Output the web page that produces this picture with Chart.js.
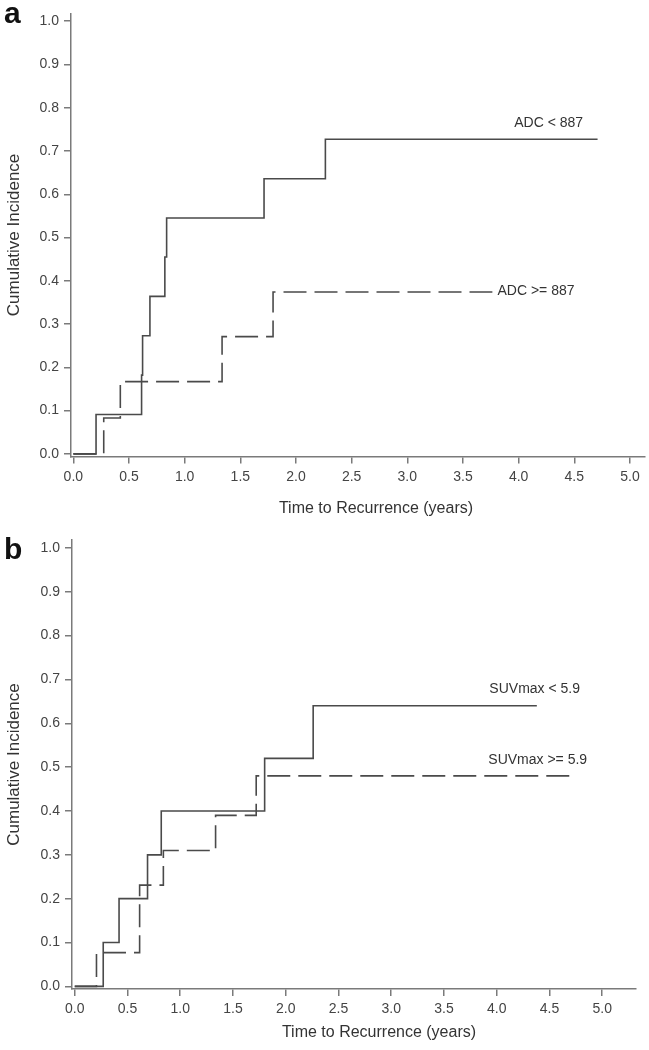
<!DOCTYPE html>
<html><head><meta charset="utf-8">
<script src="https://cdn.jsdelivr.net/npm/chart.js@4/dist/chart.umd.min.js"></script>
<style>
html,body{margin:0;padding:0;background:#fff;width:649px;height:1050px;overflow:hidden;}
.panel{position:absolute;left:0;width:649px;height:525px;}
.tag{position:absolute;left:4px;font:bold 30px "Liberation Sans",Arial,sans-serif;line-height:30px;color:#111;z-index:5;}
</style></head><body>
<div class="panel" style="top:0"><canvas id="ca"></canvas></div>
<div class="panel" style="top:525px"><canvas id="cb"></canvas></div>
<div class="tag" style="top:-2px">a</div>
<div class="tag" style="top:534px">b</div>
<script>
// ---- data ----
const xTicks = [0, 0.5, 1, 1.5, 2, 2.5, 3, 3.5, 4, 4.5, 5];
const yTicks = [0, 0.1, 0.2, 0.3, 0.4, 0.5, 0.6, 0.7, 0.8, 0.9, 1.0];

const adcLowX  = [0, 0.204, 0.613, 0.622, 0.688, 0.822, 0.838, 1.713, 2.264, 4.709];
const adcLowY  = [0, 0.091, 0.182, 0.273, 0.364, 0.455, 0.545, 0.636, 0.727, 0.727];
const adcHighX = [0, 0.273, 0.422, 1.336, 1.794, 3.764];
const adcHighY = [0, 0.083, 0.167, 0.271, 0.374, 0.374];

const suvLowX  = [0, 0.27, 0.42, 0.69, 0.82, 1.80, 2.26, 4.38];
const suvLowY  = [0, 0.10, 0.20, 0.30, 0.40, 0.52, 0.64, 0.64];
const suvHighX = [0, 0.206, 0.615, 0.84, 1.335, 1.72, 4.70];
const suvHighY = [0, 0.077, 0.231, 0.31, 0.39, 0.48, 0.48];

const labelsA = [
  {text: 'ADC < 887',  x: 3.96, y: 0.764},
  {text: 'ADC >= 887', x: 3.81, y: 0.375}
];
const labelsB = [
  {text: 'SUVmax < 5.9',  x: 3.93, y: 0.677},
  {text: 'SUVmax >= 5.9', x: 3.92, y: 0.515}
];
const xTitle = 'Time to Recurrence (years)';
const yTitle = 'Cumulative Incidence';

// ---- drawing ----
const FAM = '"Liberation Sans", Arial, sans-serif';
const AXIS = '#7a7a7a';
const LINE = '#4a4a4a';

const textPlugin = {
  id: 'texts',
  afterDatasetsDraw(chart, args, opts) {
    const ctx = chart.ctx, xs = chart.scales.x, ys = chart.scales.y;
    ctx.save();
    ctx.fillStyle = '#333';
    ctx.font = '14px ' + FAM;
    ctx.textAlign = 'left';
    ctx.textBaseline = 'middle';
    opts.labels.forEach(l => ctx.fillText(l.text, xs.getPixelForValue(l.x), ys.getPixelForValue(l.y)));
    ctx.font = '16px ' + FAM;
    ctx.textAlign = 'center';
    ctx.fillText(xTitle, opts.titleX, opts.titleY);
    ctx.restore();
  }
};

function makeChart(id, cfg) {
  const datasets = cfg.series.map(s => ({
    data: s.x.map((v, i) => ({x: v, y: s.y[i]})),
    stepped: 'before',
    borderColor: LINE,
    borderWidth: 1.6,
    borderDash: s.dash,
    pointRadius: 0,
    fill: false
  }));
  return new Chart(document.getElementById(id), {
    type: 'line',
    data: {datasets},
    options: {
      responsive: true,
      maintainAspectRatio: false,
      animation: false,
      layout: {padding: {top: cfg.top, right: cfg.right, left: 0, bottom: 0}},
      plugins: {
        legend: {display: false},
        tooltip: {enabled: false},
        texts: {labels: cfg.labels, titleX: cfg.titleX, titleY: cfg.titleY}
      },
      scales: {
        x: {
          type: 'linear', min: cfg.xmin, max: cfg.xmax,
          afterBuildTicks: s => { s.ticks = xTicks.map(v => ({value: v})); },
          afterFit: s => { s.height = cfg.xh; },
          ticks: {callback: v => Number(v).toFixed(1), font: {family: FAM, size: 14}, color: '#444', padding: 5, maxRotation: 0, autoSkip: false},
          grid: {drawOnChartArea: false, tickLength: 7, color: AXIS, lineWidth: 1.5},
          border: {color: AXIS, width: 1.5}
        },
        y: {
          type: 'linear', min: -0.006, max: 1.018,
          afterBuildTicks: s => { s.ticks = yTicks.map(v => ({value: v})); },
          afterFit: s => { s.width = cfg.yw; },
          ticks: {callback: v => Number(v).toFixed(1), font: {family: FAM, size: 14}, color: '#444', padding: 5, autoSkip: false},
          grid: {drawOnChartArea: false, tickLength: 7, color: AXIS, lineWidth: 1.5},
          border: {color: AXIS, width: 1.5},
          title: {display: true, text: yTitle, font: {family: FAM, size: 17}, color: '#333', padding: {top: 4, bottom: 0}}
        }
      }
    },
    plugins: [textPlugin]
  });
}

makeChart('ca', {
  series: [
    {x: adcLowX, y: adcLowY, dash: []},
    {x: adcHighX, y: adcHighY, dash: [23, 8]}
  ],
  labels: labelsA,
  top: 10, right: 4, yw: 71, xh: 68.5, xmin: -0.021, xmax: 5.135,
  titleX: 376, titleY: 509
});
makeChart('cb', {
  series: [
    {x: suvLowX, y: suvLowY, dash: []},
    {x: suvHighX, y: suvHighY, dash: [23, 8]}
  ],
  labels: labelsB,
  top: 15, right: 13, yw: 72, xh: 61, xmin: -0.026, xmax: 5.32,
  titleX: 379, titleY: 508
});
</script>
</body></html>
